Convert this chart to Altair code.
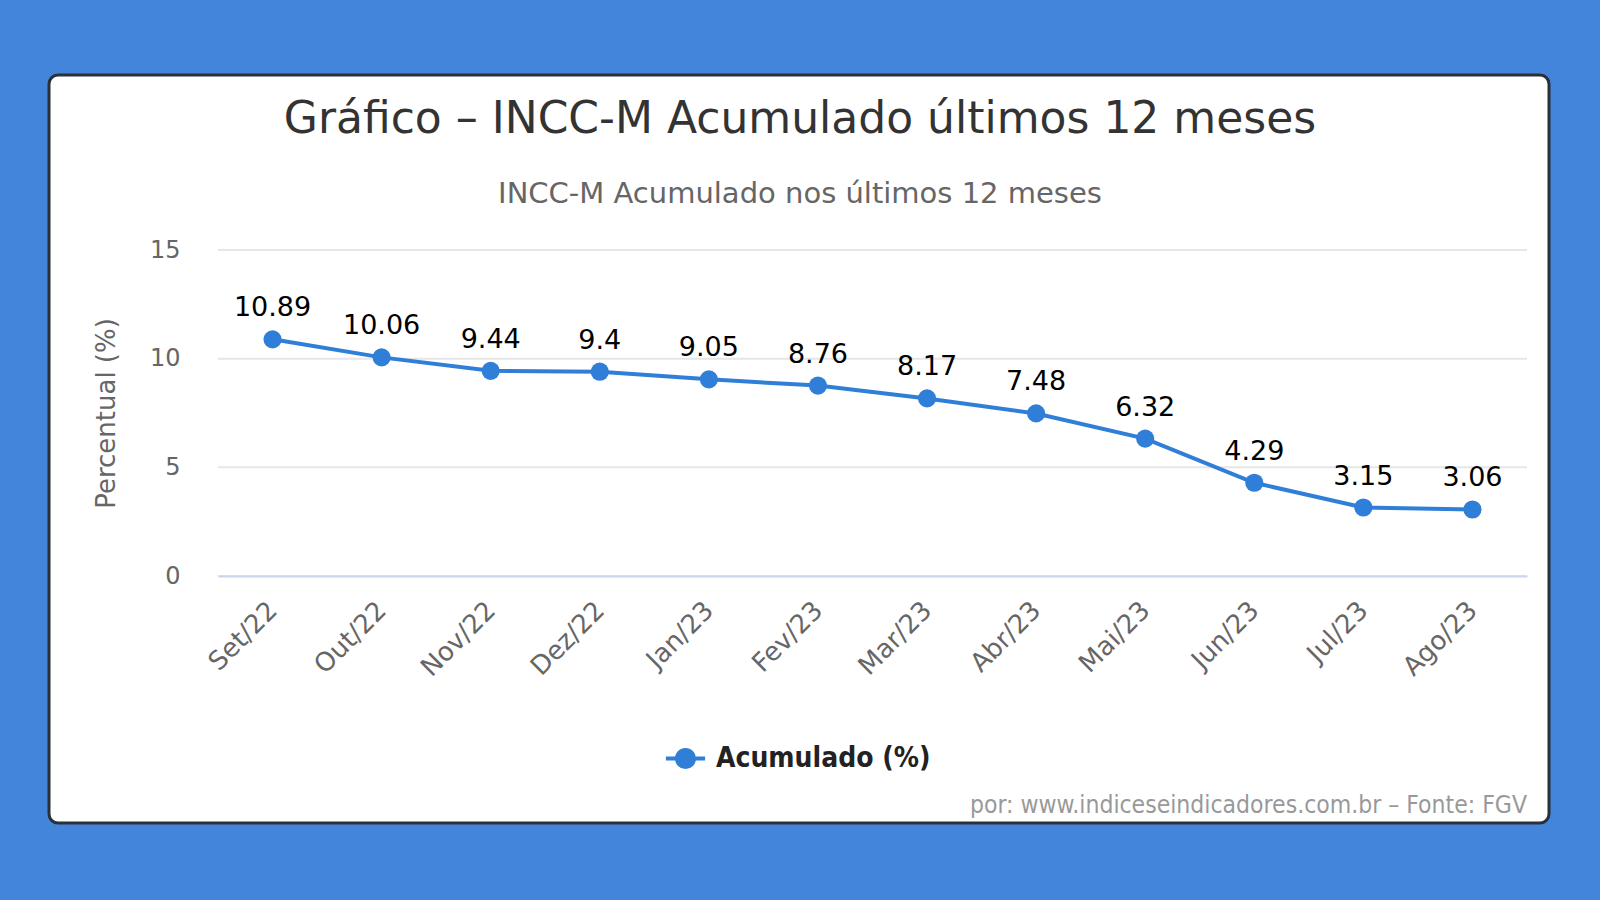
import altair as alt
import pandas as pd

meses = ["Set/22", "Out/22", "Nov/22", "Dez/22", "Jan/23", "Fev/23",
         "Mar/23", "Abr/23", "Mai/23", "Jun/23", "Jul/23", "Ago/23"]
valores = [10.89, 10.06, 9.44, 9.4, 9.05, 8.76, 8.17, 7.48, 6.32, 4.29, 3.15, 3.06]
serie = "Acumulado (%)"
grid_vals = [0, 5, 10, 15]

FONT = "DejaVu Sans"
FONT_C = "DejaVu Sans Condensed"
BLUE = "#2f7ed8"

df = pd.DataFrame({"mes": meses, "valor": valores, "serie": serie})
df["rotulo"] = [f"{v:g}" for v in valores]
grid_df = pd.DataFrame({"g": grid_vals})

W, H = 1309, 326
PL, PT = 218, 250

xenc = alt.X("mes:N", sort=meses, title=None,
             scale=alt.Scale(paddingInner=0, paddingOuter=0.5),
             axis=alt.Axis(labelAngle=315, labelAlign="right", labelBaseline="middle",
                           labelFontSize=26, labelColor="#666666", labelFont=FONT,
                           labelPadding=30, ticks=False, domainColor="#ccd6eb",
                           domainWidth=2, grid=False, zindex=1))
yscale = alt.Scale(domain=[0, 15], nice=False, zero=True)

card = alt.Chart(pd.DataFrame({"a": [0]})).mark_rect(
    fill="white", stroke="#2b3038", strokeWidth=3, cornerRadius=9
).encode(
    x=alt.value(49 - PL), x2=alt.value(1549 - PL),
    y=alt.value(75 - PT), y2=alt.value(823 - PT)
)

grid = alt.Chart(grid_df).mark_rule(color="#e6e6e6", strokeWidth=2).encode(
    y=alt.Y("g:Q", scale=yscale,
            axis=alt.Axis(values=grid_vals, grid=False, ticks=False, domain=False,
                          labelFontSize=24, labelColor="#666666", labelFont=FONT,
                          labelPadding=38, title="Percentual (%)", titleFont=FONT,
                          titleFontSize=26, titleFontWeight="normal", titleColor="#666666",
                          titlePadding=30, zindex=1)),
    x=alt.value(0), x2=alt.value(W)
)

line = alt.Chart(df).mark_line(strokeWidth=4).encode(
    x=xenc,
    y=alt.Y("valor:Q", scale=yscale),
    color=alt.Color("serie:N", scale=alt.Scale(domain=[serie], range=[BLUE]),
                    legend=alt.Legend(title=None, orient="none",
                                      legendX=693 - PL - 22, legendY=761 - PT - 17,
                                      labelFont=FONT_C, labelFontSize=28, labelFontWeight="bold",
                                      labelColor="#222222", labelLimit=600,
                                      symbolType="M-1.6,0L1.6,0M-0.7,0A0.7,0.7,0,1,1,0.7,0A0.7,0.7,0,1,1,-0.7,0Z",
                                      symbolSize=600, symbolStrokeWidth=4,
                                      symbolFillColor=BLUE, symbolStrokeColor=BLUE,
                                      labelOffset=16))
)

points = alt.Chart(df).mark_circle(size=330, opacity=1, color=BLUE).encode(
    x=alt.X("mes:N", sort=meses), y=alt.Y("valor:Q", scale=yscale)
)

labels = alt.Chart(df).mark_text(dy=-31, fontSize=27, font=FONT, color="#000000",
                                 fontWeight=500).encode(
    x=alt.X("mes:N", sort=meses), y=alt.Y("valor:Q", scale=yscale), text="rotulo:N"
)

title = alt.Chart(pd.DataFrame({"t": ["Gráfico – INCC-M Acumulado últimos 12 meses"]})).mark_text(
    fontSize=44, font=FONT, color="#333333", align="center", baseline="middle"
).encode(x=alt.value(800 - PL), y=alt.value(120 - PT), text="t:N")

subtitle = alt.Chart(pd.DataFrame({"t": ["INCC-M Acumulado nos últimos 12 meses"]})).mark_text(
    fontSize=29, font=FONT, color="#666666", align="center", baseline="middle"
).encode(x=alt.value(800 - PL), y=alt.value(194 - PT), text="t:N")

credit = alt.Chart(pd.DataFrame({"t": ["por: www.indiceseindicadores.com.br – Fonte: FGV"]})).mark_text(
    fontSize=24.5, font=FONT_C, color="#999999", align="right", baseline="middle"
).encode(x=alt.value(1527 - PL), y=alt.value(806 - PT), text="t:N")

chart = alt.layer(card, grid, line, points, labels, title, subtitle, credit).properties(
    width=W, height=H,
    autosize=alt.AutoSizeParams(type="none"),
    padding={"left": PL, "top": PT, "right": 1600 - PL - W, "bottom": 900 - PT - H},
    background="#4285db",
).configure_view(stroke=None)

chart.save("out.html", embed_options={"renderer": "svg", "actions": False})
